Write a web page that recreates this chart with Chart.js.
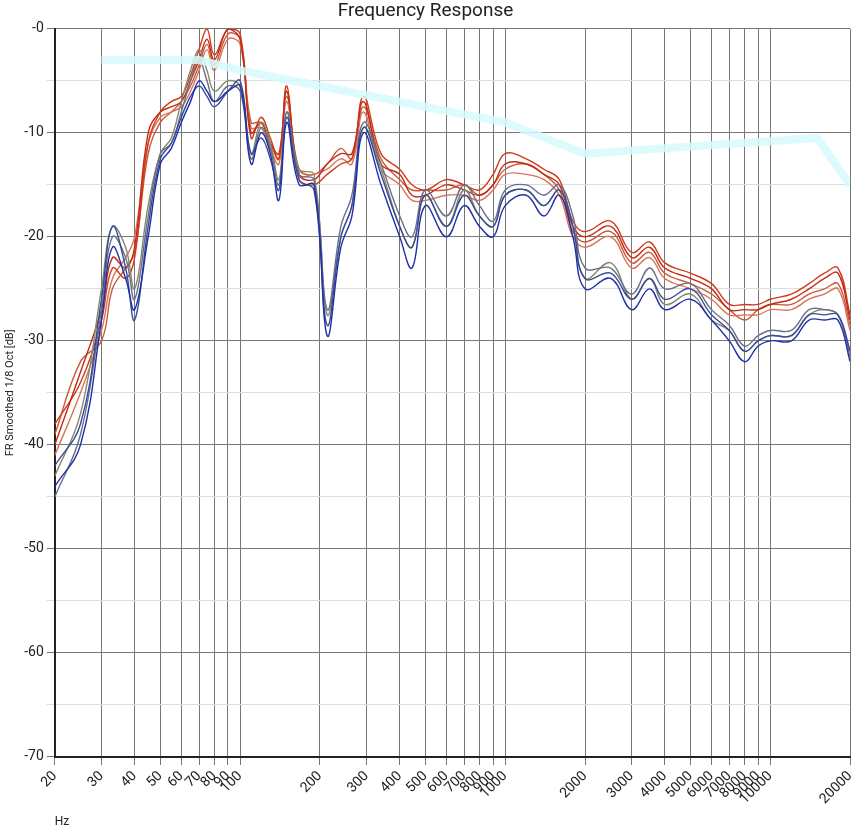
<!DOCTYPE html>
<html>
<head>
<meta charset="UTF-8">
<title>Frequency Response</title>
<script src="https://cdn.jsdelivr.net/npm/chart.js"></script>
<style>
  body { margin: 0; background: #fff; }
  #wrap { width: 865px; height: 833px; }
</style>
</head>
<body>
<div id="wrap"><canvas id="fr"></canvas></div>
<script>
const freqs = [20,25,30,33,37,40,45,50,55,60,65,70,75,80,90,100,110,120,130,140,150,167,190,213,240,264,292,340,400,445,500,600,700,800,900,1000,1200,1400,1600,1800,2000,2500,3000,3500,4000,5000,6000,7000,8000,9000,10000,12000,14000,16000,18000,20000];

const blue1  = [-44,-40,-28,-21,-24,-27,-20,-13,-11.5,-9,-7,-5,-6,-7,-6,-5.5,-13,-10,-12,-16.5,-9,-15,-15,-29.5,-21,-18,-10,-15,-20,-23,-17,-20,-17,-19,-20,-17,-16,-18,-16,-20,-25,-24,-27,-25,-27,-26,-28,-30,-32,-30.5,-30,-30,-28,-28,-28,-32];
const blue2  = [-42,-38,-26,-19,-23,-28,-19,-12.5,-11,-8.5,-6.5,-5.5,-6.5,-7.5,-6,-5,-12,-10.5,-12.5,-15.5,-8.5,-14.5,-15.5,-28.5,-20,-17,-9.5,-14,-19,-21,-16,-19,-16,-18,-19,-16,-15.5,-17,-15.5,-19,-24,-23.5,-26,-24,-26,-25,-27.5,-29,-31,-30,-29.5,-29.5,-27.5,-27.5,-27.5,-31];
const gray1  = [-45,-39,-27,-20,-22,-26,-18,-12,-11,-8,-5,-3,-5,-7,-5.5,-6,-12.5,-9.5,-11.5,-15,-8,-14,-14.5,-27,-19,-16,-9,-13,-18,-20,-15.5,-18,-15,-17,-18.5,-15.5,-15,-16,-15,-18,-23,-23,-25.5,-23,-25,-24.5,-27,-28.5,-30.5,-29.5,-29,-29,-27,-27,-27.5,-31.5];
const olive1 = [-43,-37,-25,-19,-21,-25,-17,-12,-10.5,-7,-4,-2,-4,-6,-5,-5.5,-12,-9,-11,-14.5,-8,-13.5,-14,-27.5,-20,-17,-9.5,-13.5,-19,-21,-16,-19,-15.5,-18,-19,-16,-15.5,-17,-15.5,-19,-24,-22.5,-26,-24,-26.5,-25.5,-28,-29,-31,-30,-29.5,-29.5,-27.5,-27,-27.5,-31];
const red1   = [-40,-33,-27,-22,-23,-21,-10,-8,-7.5,-7,-5,-3,-1,-3,0,-1,-10,-9,-11,-12,-6,-14,-14.5,-13,-12,-12,-7,-13,-14,-16,-16,-15,-15.5,-16,-15,-13,-13,-14,-15,-19,-20,-19,-22,-21,-23,-24,-25,-27,-27,-27,-26.5,-26,-25,-24,-23.5,-28];
const red2   = [-38,-34,-28,-23,-24,-22,-11,-8,-7,-6.5,-4.5,-2,0,-2.5,0,-0.5,-10.5,-8.5,-10.5,-12.5,-5.5,-14.5,-15,-14,-13,-12.5,-6.5,-12,-13.5,-15,-15.5,-14.5,-15,-15.5,-14,-12,-12.5,-13.5,-14.5,-18.5,-19.5,-18.5,-21.5,-20.5,-22.5,-23.5,-24.5,-26.5,-26.5,-26.5,-26,-25.5,-24.5,-23.5,-23,-27.5];
const orange1= [-41,-35,-29,-24,-22,-20,-11,-8.5,-8,-7.5,-6,-4,-2,-4,-1,-1.5,-9.5,-9.5,-11.5,-13,-7,-14,-14,-13.5,-12.5,-13,-8,-13.5,-15,-16.5,-16.5,-16,-16,-16.5,-15.5,-14,-14,-14.5,-16,-20,-21,-20,-23,-22,-24,-25,-26,-27.5,-27.5,-27.5,-27,-27,-26,-25.5,-25,-29];
const orange2= [-39,-32,-30,-25,-23,-21.5,-12,-9,-8,-7,-5.5,-3.5,-1.5,-3.5,-0.5,-1,-9,-9,-11,-12.5,-6.5,-13.5,-14,-13,-11.5,-12.5,-7.5,-12.5,-14.5,-15.5,-15.5,-15.5,-15,-16,-15,-13.5,-13,-14,-15.5,-19.5,-20.5,-19.5,-22.5,-21.5,-23.5,-24.5,-25.5,-27,-28,-27,-26.5,-26.5,-25.5,-25,-24.5,-28.5];

const targetFreqs = [30,70,100,200,500,1000,2000,15000,20000];
const targetVals  = [-3,-3,-4,-5.5,-7.5,-9,-12,-10.5,-15];

const xTicks = [20,30,40,50,60,70,80,90,100,200,300,400,500,600,700,800,900,1000,2000,3000,4000,5000,6000,7000,8000,9000,10000,20000];

function pts(xs, ys) { return xs.map((f, i) => ({ x: f, y: ys[i] })); }

const series = [
  [blue1, "#1f2fa8"], [blue2, "#3a4a98"], [gray1, "#6a7088"], [olive1, "#848a68"],
  [red1, "#c42a14"], [red2, "#d03a1c"], [orange1, "#d8745a"], [orange2, "#c85a3a"]
];

const datasets = [{
  data: pts(targetFreqs, targetVals),
  borderColor: "rgba(215,250,252,0.85)",
  borderWidth: 8, pointRadius: 0, tension: 0, showLine: true
}];
series.forEach(s => datasets.push({
  data: pts(freqs, s[0]), borderColor: s[1], borderWidth: 1.4,
  pointRadius: 0, tension: 0.4, showLine: true
}));

new Chart(document.getElementById("fr"), {
  type: "scatter",
  data: { datasets: datasets },
  options: {
    responsive: true, maintainAspectRatio: false, animation: false,
    layout: { padding: { right: 14 } },
    plugins: {
      legend: { display: false },
      tooltip: { enabled: false },
      title: { display: true, text: "Frequency Response", color: "#222",
        font: { family: "Roboto", size: 19, weight: "normal" }, padding: { top: 0, bottom: 6 } }
    },
    scales: {
      x: {
        type: "logarithmic", min: 20, max: 20000,
        afterBuildTicks: ax => { ax.ticks = xTicks.map(v => ({ value: v })); },
        ticks: { autoSkip: false, maxRotation: 45, minRotation: 45, color: "#222",
          font: { family: "Roboto", size: 14 }, callback: v => String(v) },
        grid: { color: "#777", lineWidth: 1 },
        border: { color: "#222", width: 2 },
        title: { display: true, text: "Hz", align: "start", color: "#222", font: { family: "Roboto", size: 12 } }
      },
      y: {
        min: -70, max: 0,
        ticks: { stepSize: 5, color: "#222", font: { family: "Roboto", size: 14 },
          callback: v => v % 10 === 0 ? (v === 0 ? "-0" : String(v)) : "" },
        grid: { color: ctx => (ctx.tick && ctx.tick.value % 10 === 0) ? "#777" : "#ddd" },
        border: { color: "#222", width: 2 },
        title: { display: true, text: "FR Smoothed 1/8 Oct [dB]", color: "#222", font: { family: "Roboto", size: 11 } }
      }
    }
  }
});
</script>
</body>
</html>
